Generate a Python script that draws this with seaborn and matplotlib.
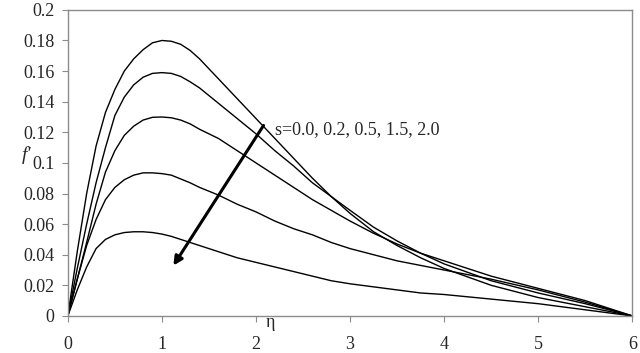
import numpy as np
import pandas as pd
import matplotlib
matplotlib.use("Agg")
import matplotlib.pyplot as plt
import seaborn as sns


# eta grid and f' profiles, one per value of s
eta = [0, 0.1, 0.2, 0.3, 0.4, 0.5, 0.6, 0.7, 0.8, 0.9, 1.0, 1.1, 1.2, 1.3, 1.4,
       1.6, 1.8, 2.0, 2.2, 2.4, 2.6, 2.8, 3.0, 3.25, 3.5, 3.75, 4.0, 4.5, 5.0,
       5.5, 6.0]
s_values = ["0.0", "0.2", "0.5", "1.5", "2.0"]

f_s00 = [0, 0.042, 0.080, 0.111, 0.133, 0.148, 0.160, 0.168, 0.174, 0.1785, 0.180,
         0.1795, 0.1775, 0.1735, 0.168, 0.155, 0.142, 0.129, 0.116, 0.103, 0.090,
         0.078, 0.067, 0.055, 0.046, 0.038, 0.031, 0.020, 0.012, 0.006, 0]
f_s02 = [0, 0.031, 0.060, 0.087, 0.110, 0.131, 0.143, 0.151, 0.156, 0.1585, 0.159,
         0.1585, 0.1565, 0.153, 0.149, 0.139, 0.129, 0.119, 0.108, 0.098, 0.087,
         0.078, 0.069, 0.058, 0.049, 0.041, 0.034, 0.023, 0.015, 0.008, 0]
f_s05 = [0, 0.024, 0.048, 0.073, 0.094, 0.108, 0.118, 0.124, 0.128, 0.1298, 0.130,
         0.1295, 0.128, 0.1255, 0.122, 0.116, 0.108, 0.100, 0.092, 0.084, 0.076,
         0.069, 0.062, 0.054, 0.047, 0.041, 0.036, 0.026, 0.018, 0.010, 0]
f_s15 = [0, 0.024, 0.046, 0.063, 0.076, 0.084, 0.089, 0.092, 0.0935, 0.0935, 0.093,
         0.092, 0.0895, 0.087, 0.084, 0.079, 0.073, 0.068, 0.062, 0.057, 0.053,
         0.048, 0.044, 0.040, 0.036, 0.033, 0.030, 0.024, 0.017, 0.009, 0]
f_s20 = [0, 0.017, 0.032, 0.044, 0.050, 0.053, 0.0545, 0.055, 0.055, 0.0545, 0.0535,
         0.052, 0.050, 0.048, 0.046, 0.042, 0.038, 0.035, 0.032, 0.029, 0.026,
         0.023, 0.021, 0.019, 0.017, 0.015, 0.014, 0.011, 0.008, 0.004, 0]

profiles = [f_s00, f_s02, f_s05, f_s15, f_s20]
df = pd.concat(
    [pd.DataFrame({"eta": eta, "fp": f, "s": s}) for s, f in zip(s_values, profiles)],
    ignore_index=True,
)

sns.set_style("white")
plt.rcParams["font.family"] = ["Liberation Serif", "DejaVu Serif"]
fs = 13

fig = plt.figure(figsize=(6.4, 3.53), dpi=100)
ax = fig.add_axes([0.106, 0.105, 0.882, 0.867])

sns.lineplot(
    data=df, x="eta", y="fp", hue="s", palette=["black"] * 5,
    estimator=None, sort=False, legend=False, linewidth=1.0, ax=ax,
)

ax.set_xlim(0, 6)
ax.set_ylim(0, 0.2)
ax.set_xticks(range(7))
ax.set_xticklabels([str(i) for i in range(7)])
yt = np.round(np.arange(0, 0.201, 0.02), 2)
ax.set_yticks(yt)
ax.set_yticklabels(["0" if v == 0 else f"{v:g}" for v in yt])
ax.set_xlabel("")
ax.set_ylabel("")
for sp in ax.spines.values():
    sp.set_color("#8c8c8c")
    sp.set_linewidth(1.0)
ax.tick_params(axis="x", direction="out", length=4.5, color="#8c8c8c",
               pad=10, labelsize=fs, bottom=True)
ax.tick_params(axis="y", direction="out", length=4.5, color="#8c8c8c",
               pad=5, labelsize=fs, left=True)

# axis labels placed like the original
fig.text(0.042, 0.56, "f'", fontstyle="italic", fontsize=fs + 1, ha="center", va="center")
fig.text(0.422, 0.085, "η", fontsize=fs, ha="center", va="center")

# arrow showing direction of increasing s
ax.annotate(
    "", xy=(1.106, 0.0314), xytext=(2.096, 0.126),
    arrowprops=dict(arrowstyle="-|>", color="black", lw=2.2, mutation_scale=13),
)
ax.text(2.2, 0.1215, "s=0.0, 0.2, 0.5, 1.5, 2.0", fontsize=fs, ha="left", va="center")

fig.savefig("out.png", dpi=100)
